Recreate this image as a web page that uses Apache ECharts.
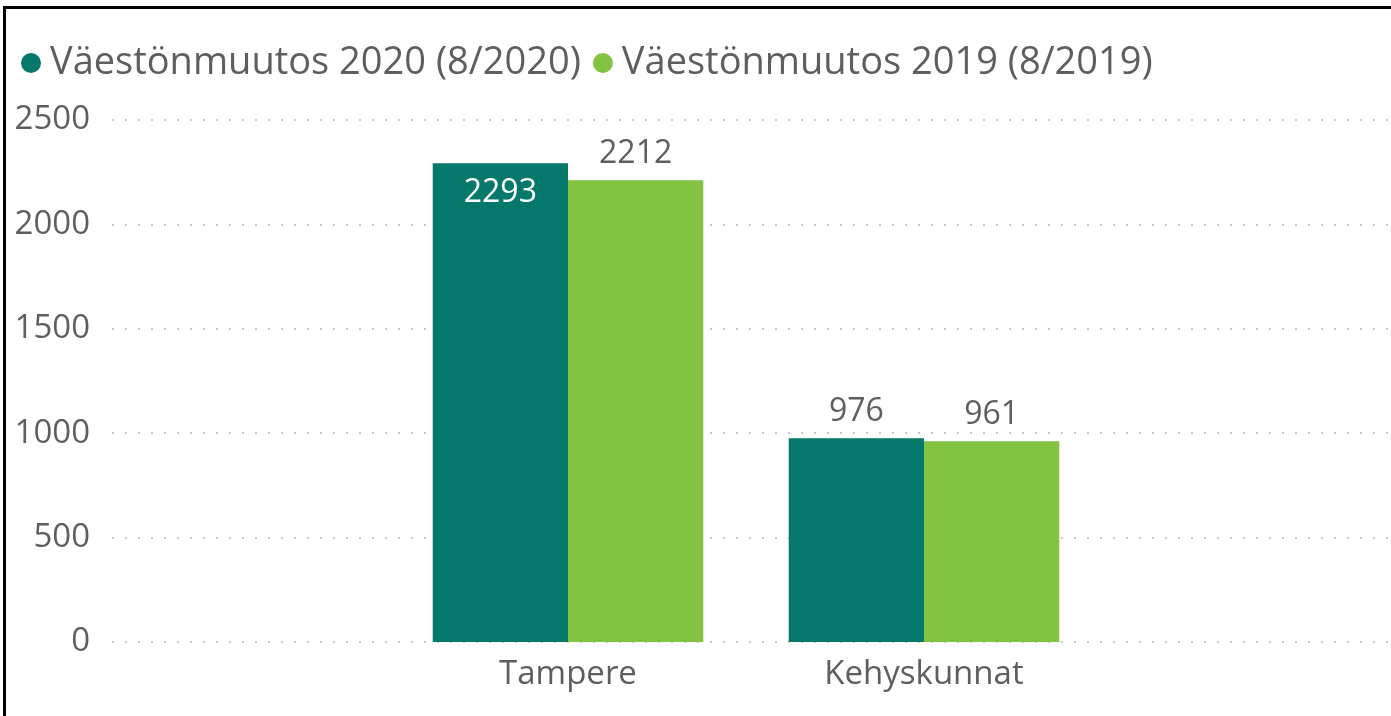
<!DOCTYPE html>
<html lang="fi">
<head>
    <meta charset="utf-8" />
    <title>Väestönmuutos</title>
    <script type="text/javascript" src="https://cdn.jsdelivr.net/npm/echarts@6/dist/echarts.min.js"></script>
    <style type="text/css">
        html, body { margin: 0; padding: 0; background: #fff; overflow: hidden; }
        #main { width: 1391px; height: 716px; }
        .frame {
            position: absolute; left: 3px; top: 6px; width: 1500px; height: 800px;
            border-top: 3px solid #000; border-left: 3px solid #000;
            pointer-events: none;
        }
    </style>
</head>
<body>
    <div id="main"></div>
    <div class="frame"></div>

    <script type="text/javascript">
        var categories = ['Tampere', 'Kehyskunnat'];
        var seriesNames = ['Väestönmuutos 2020 (8/2020)', 'Väestönmuutos 2019 (8/2019)'];
        var data2020 = [2293, 976];
        var data2019 = [2212, 961];
        var yTicks = [0, 500, 1000, 1500, 2000, 2500];

        var font = '"Open Sans", "Noto Sans", sans-serif';
        var textColor = '#605E5C';
        var myChart = echarts.init(document.getElementById('main'));

        // 2293 sits inside the bar top in the original, the rest above
        function makeData(values, insideIdx) {
            return values.map(function (v, i) {
                if (i === insideIdx) {
                    return { value: v, label: { position: 'insideTop', color: '#fff', distance: 14 } };
                }
                return v;
            });
        }

        var option = {
            animation: false,
            textStyle: { fontFamily: font },
            color: ['#04786A', '#82C341'],
            legend: {
                left: 16,
                top: 39,
                icon: 'circle',
                itemWidth: 20,
                itemHeight: 20,
                itemGap: 12,
                data: seriesNames,
                textStyle: { fontSize: 38, color: textColor, fontFamily: font, padding: [0, 0, 0, 4] }
            },
            grid: [
                { left: 112, right: 0, top: 120, bottom: 74 },
                { left: 390, right: 289, top: 120, bottom: 74 }
            ],
            xAxis: [
                { gridIndex: 0, type: 'category', data: categories, show: false },
                {
                    gridIndex: 1, type: 'category', data: categories,
                    axisLine: { show: false },
                    axisTick: { show: false },
                    axisLabel: { fontSize: 33, color: textColor, margin: 16, fontFamily: font }
                }
            ],
            yAxis: [
                {
                    gridIndex: 0, type: 'value',
                    min: yTicks[0], max: yTicks[yTicks.length - 1], interval: 500,
                    axisLine: { show: false },
                    axisTick: { show: false },
                    axisLabel: {
                        fontSize: 33, color: textColor, margin: 22, fontFamily: font,
                        padding: [4, 0, 0, 0],
                        formatter: function (v) { return String(v); }
                    },
                    splitLine: { lineStyle: { color: '#C8C8C8', width: 2, type: [2, 11] } }
                },
                {
                    gridIndex: 1, type: 'value',
                    min: yTicks[0], max: yTicks[yTicks.length - 1], interval: 500,
                    show: false,
                    splitLine: { show: false }
                }
            ],
            series: [
                {
                    name: seriesNames[0],
                    type: 'bar',
                    xAxisIndex: 1, yAxisIndex: 1,
                    barGap: '0%',
                    barCategoryGap: '24%',
                    data: makeData(data2020, 0),
                    label: { show: true, position: 'top', distance: 10, fontSize: 32, color: textColor, fontFamily: font }
                },
                {
                    name: seriesNames[1],
                    type: 'bar',
                    xAxisIndex: 1, yAxisIndex: 1,
                    data: makeData(data2019, -1),
                    label: { show: true, position: 'top', distance: 10, fontSize: 32, color: textColor, fontFamily: font }
                }
            ]
        };
        myChart.setOption(option);
    </script>
</body>
</html>
